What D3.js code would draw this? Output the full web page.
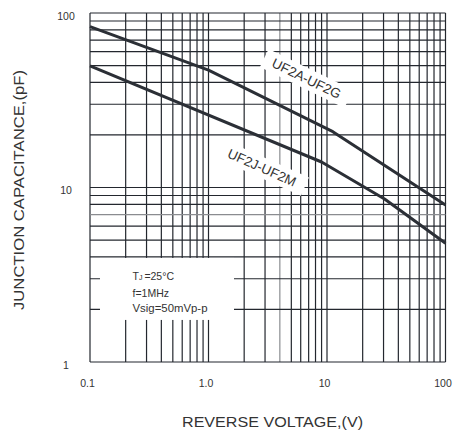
<!DOCTYPE html>
<html><head><meta charset="utf-8">
<script src="https://cdn.jsdelivr.net/npm/d3@7"></script>
<style>body{margin:0;background:#fff}svg{display:block}text{font-family:"Liberation Sans",Arial,sans-serif;fill:#333}</style>
</head><body><svg id="c" width="454" height="430"></svg>
<script>
// data
const seriesNames = ["UF2A-UF2G", "UF2J-UF2M"];
const voltsA = [0.1, 1.0, 11.2, 100];
const capA   = [83.5, 47.1, 20.9, 7.94];
const voltsB = [0.1, 9.0, 30.6, 100];
const capB   = [49.7, 14.0, 8.6, 4.79];
const xTickVals = [0.1, 1, 10, 100];
const xTickLabels = ["0.1", "1.0", "10", "100"];
const yTickVals = [1, 10, 100];
const yTickLabels = ["1", "10", "100"];
const noteLines = ["=25°C", "f=1MHz", "Vsig=50mVp-p"];

const svg = d3.select("#c");
const x = d3.scaleLog().domain([0.1, 100]).range([90, 445.5]);
const y = d3.scaleLog().domain([1, 100]).range([362, 13]);
const ink = "#23272e";

// grid
const xGrid = [], yGrid = [];
for (let k = -1; k <= 1; k++) for (let d = 1; d <= 9; d++) xGrid.push(+(d * Math.pow(10, k)).toPrecision(3));
xGrid.push(100);
for (let k = 0; k <= 1; k++) for (let d = 1; d <= 9; d++) yGrid.push(d * Math.pow(10, k));
yGrid.push(100);

const g = svg.append("g");
g.selectAll("line.v").data(xGrid).join("line")
  .attr("x1", d => x(d)).attr("x2", d => x(d))
  .attr("y1", y(1)).attr("y2", y(100))
  .attr("stroke", d => d === 4 ? "#8a8c90" : ink).attr("stroke-width", 1.2);
g.selectAll("line.h").data(yGrid).join("line")
  .attr("x1", x(0.1)).attr("x2", x(100))
  .attr("y1", d => y(d)).attr("y2", d => y(d))
  .attr("stroke", d => d === 7 ? "#8a8c90" : ink).attr("stroke-width", 1.2);

// white box behind note
svg.append("rect").attr("x", x(0.1) + 10).attr("y", y(4) + 1)
  .attr("width", 134).attr("height", 62).attr("fill", "#fff");

// curves
const line = d3.line().x(d => x(d[0])).y(d => y(d[1]));
const dataA = voltsA.map((v, i) => [v, capA[i]]);
const dataB = voltsB.map((v, i) => [v, capB[i]]);
[dataA, dataB].forEach(dd => svg.append("path").datum(dd).attr("d", line)
  .attr("fill", "none").attr("stroke", "#2b2f36").attr("stroke-width", 3).attr("stroke-linejoin", "round"));

// curve labels
const labels = [
  {t: seriesNames[0], cx: 306.5, cy: 78.5, a: 26},
  {t: seriesNames[1], cx: 262, cy: 167.5, a: 24}
];
labels.forEach(l => {
  const gg = svg.append("g").attr("transform", `translate(${l.cx},${l.cy}) rotate(${l.a})`);
  gg.append("rect").attr("x", -47).attr("y", -10).attr("width", 94).attr("height", 20).attr("fill", "#fff");
  gg.append("text").attr("text-anchor", "middle").attr("dy", "0.35em").attr("font-size", 13.5).text(l.t);
});

// note
const nx = 132.5;
const t0 = svg.append("text").attr("x", nx).attr("y", 280).attr("font-size", 10.5);
t0.append("tspan").text("T");
t0.append("tspan").attr("font-size", 7).text("J ");
t0.append("tspan").text(noteLines[0]);
svg.append("text").attr("x", nx).attr("y", 296.5).attr("font-size", 10.5).text(noteLines[1]);
svg.append("text").attr("x", nx).attr("y", 311.5).attr("font-size", 10.5)
  .attr("textLength", 75).attr("lengthAdjust", "spacingAndGlyphs").text(noteLines[2]);

// axes (ticks labels)
const xAxis = d3.axisBottom(x).tickValues(xTickVals).tickSize(0).tickPadding(0)
  .tickFormat((d, i) => xTickLabels[i]);
const xa = svg.append("g").attr("transform", "translate(-3,380)").call(xAxis);
xa.select(".domain").remove();
xa.selectAll("text").attr("font-size", 10.5).attr("fill", "#333").attr("font-family", "Liberation Sans, Arial, sans-serif");

const yAxis = d3.axisLeft(y).tickValues(yTickVals).tickSize(0).tickPadding(0)
  .tickFormat((d, i) => yTickLabels[i]);
const ya = svg.append("g").attr("transform", "translate(66,3)").call(yAxis);
ya.select(".domain").remove();
ya.selectAll("text").attr("text-anchor", "middle").attr("font-size", 10.5).attr("fill", "#333").attr("font-family", "Liberation Sans, Arial, sans-serif");

// titles
svg.append("text").attr("x", 272.5).attr("y", 427).attr("text-anchor", "middle")
  .attr("font-size", 14).attr("textLength", 181).attr("lengthAdjust", "spacingAndGlyphs").text("REVERSE VOLTAGE,(V)");
svg.append("text").attr("transform", "translate(24,190) rotate(-90)").attr("text-anchor", "middle")
  .attr("font-size", 14).attr("textLength", 240).attr("lengthAdjust", "spacingAndGlyphs").text("JUNCTION CAPACITANCE,(pF)");
</script></body></html>
